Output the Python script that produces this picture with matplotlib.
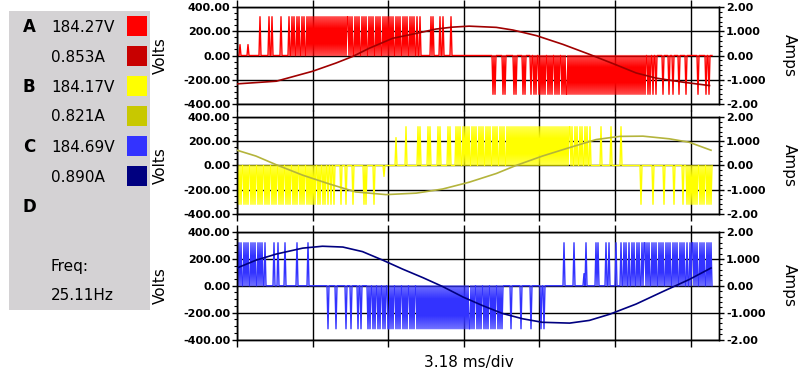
import matplotlib

matplotlib.use("Agg")
import matplotlib.pyplot as plt
import numpy as np
from matplotlib.patches import Rectangle
from matplotlib.ticker import AutoMinorLocator

# ---- data ---------------------------------------------------------------
# voltage traces, one sample per screen pixel, one string block per division
# '.' = 0 V, '+' / '-' = bus rail, 'p' / 'n' / 'h' = partly drawn pulses
LEVELS = {".": 0, "+": 320, "-": -320, "p": 90, "n": -90, "h": 230}
SAMPLES_PER_DIV = 75.6
MS_PER_DIV = 3.18

va_trace = (
    "...p" + "." * 7 + "p" + "." * 11 + "+" + "." * 8 + "+..+" + "." * 8 + "+" + "." * 7
    + "+..+." * 4 + "+.+."
    + "+." * 17 + "+" + "+.+.+.." * 5 + "+.+.+."
    + "+.+.+.." * 4 + "+..+..."
    + "." * 7 + "+.+" + "." * 6 + "+..+" + "." * 7 + "+" + "." * 13
    + "." * 28 + "-.-" + "." * 7 + "-.-" + "." * 8 + "-.-" + "." * 6 + "-.-" + "." * 5 + "-.." + "-.-..-."
    + "-.-.-.." * 3 + "-.-.-" + "-." * 25
    + "-." * 13 + "-.-..-.-..-.." + "-"
    + "." * 6 + "-" + "." * 5 + "-" + "..." + "-" + "." * 5 + "-" + "." * 6 + "-" + "." * 6
    + "....." + "-" + "." * 7 + "-..-..."
)
vb_trace = (
    "-.-.-.." * 10 + "-.-.-."
    + "-.-.." * 3 + "-..-." + ".-.."
    + "...." + "-" + "...." + "-" + "." * 6 + "-" + "." * 10 + "-.-" + "." * 7 + "-" + "." * 9 + "n" + "...."
    + "." * 7 + "h" + "." * 9 + "+" + "." * 11 + "+.+" + "." * 7 + "+.+" + "." * 7 + "+.+" + "." * 7
    + "+.+" + "." * 5 + "+.+.+..+."
    + "+.+.+.." * 6 + "+." + "+." * 16
    + "+." * 14 + "+" + "+.+.." * 4 + "+..." + "." * 7 + "+" + "." * 9 + "+" + "." * 5
    + "...." + "+" + "." * 19 + "-" + "." * 11 + "-" + "." * 10 + "-" + "." * 9 + "-" + "." * 8 + "-..." + "-.-.-."
    + "-.-.-.." * 2 + "-.-.-."
)
vc_trace = (
    "+.+.+.." * 4 + "+.." + "." * 6 + "+..." + "+" + "." * 6 + "+" + "." * 11 + "+" + "." * 10 + "+" + "...."
    + "." * 15 + "-" + "." * 7 + "-" + "." * 9 + "-...." + "-" + "." * 6 + "-..-" + "." * 6 + "-.-.." * 4 + "-"
    + "-.-.-.." * 4 + "-.-.-." + "-." * 21
    + "-.-.-" + "-.-.-.." * 4 + "-." + "-.-." + "." * 7 + "-" + "." * 9 + "-" + "." * 9 + "-" + "." * 9
    + "-..-" + "." * 19 + "+" + "." * 9 + "+" + "." * 9 + "p.+" + "." * 9 + "+.+" + "." * 7 + "+..+" + "." * 6 + "+"
    + "...." + "+..+.+..+..+.+..+.+..+.+" + "+.+.+.." * 6 + "+.." + "+.+"
    + "+.+.+.." * 2 + "+.+.+."
)

# phase currents (time in divisions, amps)
ia_t = [0.0, 0.52, 1.00, 1.31, 1.53, 1.75, 2.06, 2.37, 2.63, 2.85, 3.07, 3.43, 3.65, 3.96, 4.31, 4.66, 5.01, 5.28, 5.54, 5.90, 6.25]
ia = [-1.17, -1.06, -0.65, -0.31, -0.04, 0.30, 0.71, 0.91, 1.09, 1.17, 1.21, 1.16, 1.05, 0.82, 0.46, 0.05, -0.38, -0.72, -0.93, -1.10, -1.24]
ib_t = [0.0, 0.25, 0.52, 0.87, 1.22, 1.57, 1.97, 2.37, 2.72, 3.07, 3.43, 3.69, 4.04, 4.40, 4.75, 5.06, 5.37, 5.72, 5.98, 6.27]
ib = [0.63, 0.39, 0.03, -0.40, -0.76, -1.09, -1.20, -1.14, -0.97, -0.69, -0.33, 0.0, 0.39, 0.74, 1.07, 1.20, 1.21, 1.10, 0.96, 0.63]
ic_t = [0.0, 0.25, 0.52, 0.87, 1.13, 1.40, 1.66, 1.93, 2.19, 2.46, 2.72, 2.99, 3.25, 3.51, 3.78, 4.04, 4.40, 4.66, 4.93, 5.28, 5.63, 5.98, 6.27]
ic = [0.66, 0.95, 1.18, 1.40, 1.47, 1.44, 1.27, 0.95, 0.62, 0.30, -0.03, -0.42, -0.74, -1.03, -1.23, -1.36, -1.39, -1.29, -1.06, -0.68, -0.22, 0.23, 0.66]

phase_names = ["A", "B", "C", "D"]
rms_volts = ["184.27V", "184.17V", "184.69V"]
rms_amps = ["0.853A", "0.821A", "0.890A"]
freq_text = "25.11Hz"

volt_ticks = [-400, -200, 0, 200, 400]
volt_labels = ["-400.00", "-200.00", "0.00", "200.00", "400.00"]
amp_ticks = [-2, -1, 0, 1, 2]
amp_labels = ["-2.00", "-1.000", "0.00", "1.000", "2.00"]

V_COLORS = ["#ff0000", "#ffff00", "#3333ff"]
I_COLORS = ["#c80000", "#c8c800", "#000080"]
I_LINE = ["#a00000", "#b4b43c", "#000080"]

W, H = 800, 374


def fx(px):
    return px / W


def fy(py):
    return 1 - py / H


fig = plt.figure(figsize=(W / 100, H / 100), dpi=100, facecolor="white")

# side panel with readings
fig.patches.append(Rectangle((fx(9), fy(310)), fx(141), 299 / H, transform=fig.transFigure,
                             facecolor="#d4d2d4", edgecolor="none", zorder=0))
for i, name in enumerate(phase_names):
    y = 27 + 60 * i
    fig.text(fx(29), fy(y), name, ha="center", va="center", fontsize=12, fontweight="bold")
    if i < 3:
        fig.text(fx(51), fy(y), rms_volts[i], ha="left", va="center", fontsize=11)
        fig.text(fx(51), fy(y + 30), rms_amps[i], ha="left", va="center", fontsize=11)
        for k, col in enumerate([V_COLORS[i], I_COLORS[i]]):
            top = 16 + 60 * i + 30 * k
            fig.patches.append(Rectangle((fx(127), fy(top + 20)), 20 / W, 20 / H,
                                         transform=fig.transFigure, facecolor=col, edgecolor="none"))
fig.text(fx(51), fy(267), "Freq:", ha="left", va="center", fontsize=11)
fig.text(fx(51), fy(296), freq_text, ha="left", va="center", fontsize=11)

traces = [va_trace, vb_trace, vc_trace]
cur_t = [ia_t, ib_t, ic_t]
cur = [ia, ib, ic]
boxes = [(7, 104), (117, 214), (232, 339.5)]
x_max = 482 / SAMPLES_PER_DIV

for i, (top, bot) in enumerate(boxes):
    ax = fig.add_axes([fx(237), fy(bot), 482 / W, (bot - top) / H])
    volts = np.array([LEVELS[c] for c in traces[i]])
    t = np.arange(len(volts)) / SAMPLES_PER_DIV
    ax.plot(t, volts, color=V_COLORS[i], lw=1.0, zorder=2)
    ax.set_xlim(0, x_max)
    ax.set_ylim(-400, 400)
    ax.set_axisbelow(True)
    ax.set_xticks(range(0, 7))
    ax.set_xticklabels([])
    ax.set_yticks(volt_ticks)
    ax.set_yticklabels(volt_labels, fontsize=8, fontweight="bold")
    ax.yaxis.set_minor_locator(AutoMinorLocator(4))
    ax.grid(True, which="major", color="black", lw=1)
    ax.tick_params(axis="x", direction="out", top=True, bottom=True, length=5, width=1)
    ax.tick_params(axis="y", which="major", direction="out", length=3.6, width=1, pad=1)
    ax.tick_params(axis="y", which="minor", direction="out", length=2, width=0.8)
    for sp in ax.spines.values():
        sp.set_color("black")
        sp.set_linewidth(1)

    ax2 = ax.twinx()
    ax2.plot(cur_t[i], cur[i], color=I_LINE[i], lw=1.2, zorder=3)
    ax2.set_ylim(-2, 2)
    ax2.set_yticks(amp_ticks)
    ax2.set_yticklabels(amp_labels, fontsize=8, fontweight="bold")
    ax2.yaxis.set_minor_locator(AutoMinorLocator(5))
    ax2.tick_params(axis="y", which="major", direction="out", length=3.6, width=1, pad=1.5)
    ax2.tick_params(axis="y", which="minor", direction="out", length=2, width=0.8)
    for sp in ax2.spines.values():
        sp.set_color("black")
        sp.set_linewidth(1)

    mid = (top + bot) / 2
    fig.text(fx(160), fy(mid), "Volts", rotation=90, ha="center", va="center", fontsize=11)
    fig.text(fx(789), fy(mid), "Amps", rotation=270, ha="center", va="center", fontsize=11)

fig.text(fx(469), fy(362), f"{MS_PER_DIV:.2f} ms/div", ha="center", va="center", fontsize=11)

fig.savefig("out.png", dpi=100, facecolor="white")
